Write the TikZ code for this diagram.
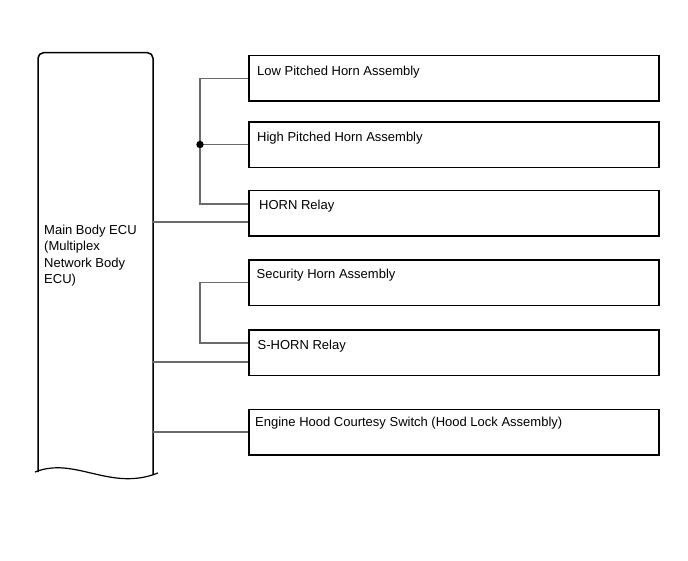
\documentclass[tikz,border=0pt]{standalone}
\usepackage{fontspec}
\setmainfont{Liberation Sans}
\usetikzlibrary{calc}
\tikzset{
  part/.style={draw=black, line width=1.5pt, rectangle, anchor=north west, inner sep=0pt,
    minimum width=410pt, minimum height=45.5pt},
  lbl/.style={anchor=base west, inner sep=0pt, font=\fontsize{13}{16.5}\selectfont},
  wire/.style={draw=black!58, line width=1.4pt},
  eculine/.style={draw=black, line width=1.5pt},
  dotj/.style={fill=black}
}
\begin{document}
\begin{tikzpicture}[x=1pt,y=-1pt]
\useasboundingbox (0,0) rectangle (688,560);
% ECU block
\node[anchor=north west, inner sep=0pt, minimum width=115pt, minimum height=420pt] (ecu) at (38,52.7) {};
\draw[eculine, rounded corners=5.5pt] (38,472) -- (38,52.7) -- (153,52.7) -- (153,475);
\draw[eculine, line width=1.2pt] (35,472) .. controls (75,456) and (110,492) .. (158,473);
\node[anchor=north west, inner sep=0pt, align=left, font=\fontsize{13}{16.5}\selectfont] (ecutext) at (44,224.5)
  {Main Body ECU\\(Multiplex\\Network Body\\ECU)};
% parts
\node[part] (b1) at (248,54.7) {};
\node[part] (b2) at (248,121) {};
\node[part] (b3) at (248,189.5) {};
\node[part] (b4) at (248,259) {};
\node[part] (b5) at (248,329) {};
\node[part] (b6) at (248,408.5) {};
\node[lbl] (t1) at ($(b1.north west)+(9,20.3)$) {Low Pitched Horn Assembly};
\node[lbl] (t2) at ($(b2.north west)+(9,20)$) {High Pitched Horn Assembly};
\node[lbl] (t3) at ($(b3.north west)+(11,20)$) {HORN Relay};
\node[lbl] (t4) at ($(b4.north west)+(8.5,19)$) {Security Horn Assembly};
\node[lbl] (t5) at ($(b5.north west)+(9.5,20)$) {S-HORN Relay};
\node[lbl] (t6) at ($(b6.north west)+(7,17.5)$) {Engine Hood Courtesy Switch (Hood Lock Assembly)};
% connectors
\coordinate (ja) at (b1.west -| 200,0);
\coordinate (jb) at (200,204);
\coordinate (j1) at (b2.west -| 200,0);
\draw[wire] (b1.west) -- (ja) -- (j1) -- (jb) -- (b3.west |- jb);
\draw[wire] (j1) -- (b2.west);
\fill[dotj] (j1) circle[radius=3.7pt];
\draw[wire] (ecu.east |- 0,222) -- (b3.west |- 0,222);
\coordinate (jc) at (b4.west -| 200,0);
\coordinate (jd) at (200,343);
\draw[wire] (b4.west) -- (jc) -- (jd) -- (b5.west |- jd);
\draw[wire] (ecu.east |- 0,362) -- (b5.west |- 0,362);
\draw[wire] (ecu.east |- 0,432) -- (b6.west |- 0,432);
\end{tikzpicture}
\end{document}
